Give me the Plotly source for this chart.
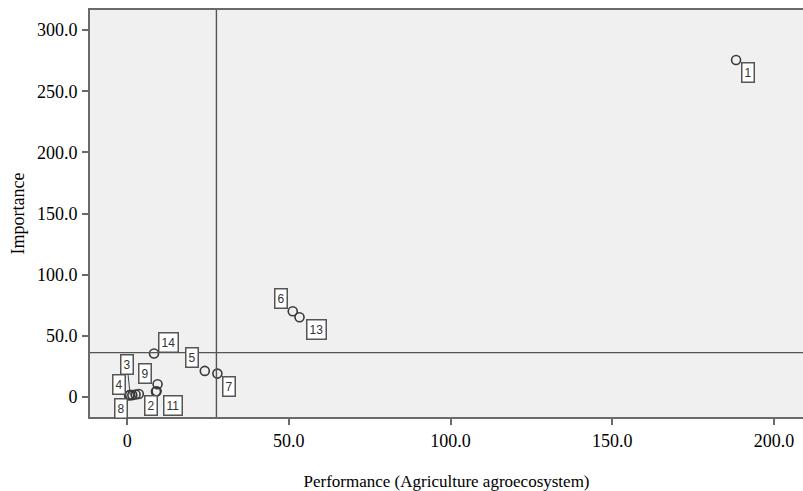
import plotly.graph_objects as go

# ---- data ----
item_ids = ["1", "2", "3", "4", "5", "6", "7", "8", "9", "10", "11", "12", "13", "14"]
performance = [188.3, 9.1, 0.9, 1.6, 24.0, 51.2, 27.9, 0.6, 9.4, 2.6, 8.9, 3.6, 53.3, 8.3]
importance = [275.5, 4.7, 1.8, 1.5, 21.3, 70.1, 19.1, 1.2, 10.4, 2.0, 4.5, 2.4, 65.2, 35.5]
shown_labels = ["1", "2", "3", "4", "5", "6", "7", "8", "9", "11", "13", "14"]
ref_performance = 27.6
ref_importance = 36.2
x_tick_vals = [0, 50, 100, 150, 200]
x_tick_text = ["0", "50.0", "100.0", "150.0", "200.0"]
y_tick_vals = [0, 50, 100, 150, 200, 250, 300]
y_tick_text = ["0", "50.0", "100.0", "150.0", "200.0", "250.0", "300.0"]

# ---- label placement (pixel offsets from each point; styling only) ----
label_offsets = {
    "1": (12, -12), "2": (-6, -14), "3": (-3, 30), "4": (-13, 11),
    "5": (-13, 13), "6": (-12, 13), "7": (12, -13), "8": (-8, -13),
    "9": (-13, 11), "11": (17, -14), "13": (17, -12), "14": (14, 11),
}
leader_labels = {"3"}

SERIF = "Liberation Serif"
FRAME = "#6a6a6a"

fig = go.Figure()

fig.add_trace(go.Scatter(
    x=performance, y=importance, mode="markers",
    marker=dict(symbol="circle-open", size=9, color="#3a3a3a",
                line=dict(width=1.6, color="#3a3a3a")),
    hoverinfo="skip", showlegend=False,
))

annotations = []
for lab in shown_labels:
    i = item_ids.index(lab)
    dx, dy = label_offsets[lab]
    common = dict(
        x=performance[i], y=importance[i], xref="x", yref="y",
        text=lab, font=dict(family="Liberation Sans", size=12, color="#333"),
        bgcolor="#ffffff", bordercolor="#555555", borderwidth=1.5, borderpad=2,
    )
    if lab in leader_labels:
        annotations.append(dict(**common, showarrow=True, arrowhead=0,
                                arrowwidth=1, arrowcolor="#444444",
                                ax=dx, ay=-dy, standoff=0))
    else:
        annotations.append(dict(**common, showarrow=False, xshift=dx, yshift=dy))

fig.add_shape(type="line", xref="x", yref="paper", x0=ref_performance, x1=ref_performance,
              y0=0, y1=1, line=dict(color="#555555", width=1.4), layer="above")
fig.add_shape(type="line", xref="paper", yref="y", x0=0, x1=1, y0=ref_importance,
              y1=ref_importance, line=dict(color="#555555", width=1.4), layer="above")

fig.update_layout(
    width=803, height=491,
    margin=dict(l=90, r=0, t=10, b=74),
    paper_bgcolor="white", plot_bgcolor="#f0f0f0",
    font=dict(family=SERIF, color="black"),
    annotations=annotations,
    xaxis=dict(
        range=[-11.5, 209], tickvals=x_tick_vals, ticktext=x_tick_text, automargin=False,
        showgrid=False, zeroline=False, showline=True, linecolor=FRAME, linewidth=2,
        mirror=True, ticks="outside", ticklen=6, tickcolor=FRAME, tickwidth=1.5,
        tickfont=dict(family=SERIF, size=18), ticklabelstandoff=0,
        title=dict(text="Performance (Agriculture agroecosystem)",
                   font=dict(family=SERIF, size=17), standoff=26),
    ),
    yaxis=dict(
        range=[-16.4, 316.4], tickvals=y_tick_vals, ticktext=y_tick_text, automargin=False,
        showgrid=False, zeroline=False, showline=True, linecolor=FRAME, linewidth=2,
        mirror=True, ticks="outside", ticklen=6, tickcolor=FRAME, tickwidth=1.5,
        tickfont=dict(family=SERIF, size=18), ticklabelstandoff=1,
        title=dict(text="Importance", font=dict(family=SERIF, size=18), standoff=8),
    ),
)

fig.write_html(
    "out.html",
    config={"displayModeBar": False},
    post_script="document.body.style.margin='0';document.body.style.overflow='hidden';",
)
